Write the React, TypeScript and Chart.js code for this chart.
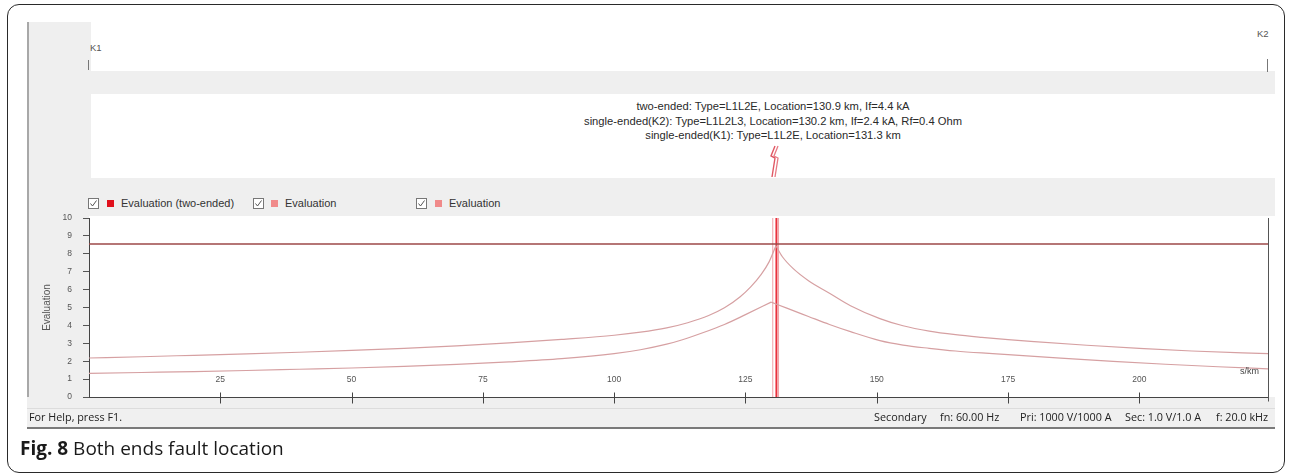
import React, { useEffect, useRef } from "react";
import { Chart, registerables } from "chart.js";

Chart.register(...registerables);

// ---------------- data ----------------
const X_MIN = 0;
const X_MAX = 224.5;
const Y_MIN = 0;
const Y_MAX = 10;
const xTickValues = [25, 50, 75, 100, 125, 150, 175, 200];
const yTickValues = [0, 1, 2, 3, 4, 5, 6, 7, 8, 9, 10];

const twoEndedKm = [0, 10, 20, 30, 40, 50, 60, 70, 80, 90, 100, 105, 110, 114, 118, 121, 124, 126, 128, 129.5, 130.8, 132, 134, 137, 141, 145, 150.6, 155, 160, 165, 170, 175, 180, 190, 200, 210, 224.5];
const twoEndedEval = [2.18, 2.25, 2.33, 2.41, 2.5, 2.6, 2.72, 2.86, 3.02, 3.22, 3.45, 3.62, 3.86, 4.15, 4.55, 4.98, 5.6, 6.15, 6.85, 7.55, 8.45, 7.85, 7.2, 6.5, 5.8, 5.1, 4.38, 3.98, 3.68, 3.48, 3.33, 3.2, 3.09, 2.89, 2.72, 2.57, 2.42];

const singleKm = [0, 10, 20, 30, 40, 50, 60, 70, 80, 90, 100, 105, 110, 113, 117, 121, 125, 129.9, 133, 137, 141, 145, 150.6, 155, 160, 165, 170, 175, 185, 195, 205, 215, 224.5];
const singleEval = [1.32, 1.37, 1.42, 1.48, 1.55, 1.62, 1.71, 1.82, 1.96, 2.14, 2.42, 2.64, 2.95, 3.2, 3.6, 4.05, 4.6, 5.3, 4.95, 4.5, 4.05, 3.65, 3.15, 2.9, 2.72, 2.57, 2.46, 2.37, 2.17, 1.99, 1.83, 1.69, 1.57];

const thresholdKm = [0, 224.5];
const thresholdEval = [8.55, 8.55];

const faultTwoEndedKm = 130.9;
const faultK2Km = 130.2;
const faultK1Km = 131.3;

const annotationLines = [
  "two-ended: Type=L1L2E, Location=130.9 km, If=4.4 kA",
  "single-ended(K2): Type=L1L2L3, Location=130.2 km, If=2.4 kA, Rf=0.4 Ohm",
  "single-ended(K1): Type=L1L2E, Location=131.3 km",
];
const legendLabels = ["Evaluation (two-ended)", "Evaluation", "Evaluation"];
const legendColors = ["#e0101c", "#f08a8a", "#f08a8a"];
const statusItems = ["Secondary", "fn: 60.00 Hz", "Pri: 1000 V/1000 A", "Sec: 1.0 V/1.0 A", "f: 20.0 kHz"];
const statusX = [874, 940, 1020, 1125, 1216];
const statusHelp = "For Help, press F1.";
const yAxisTitle = "Evaluation";
const xUnit = "s/km";

// ---------------- helpers ----------------
const pts = (xs: number[], ys: number[]) => xs.map((x, i) => ({ x, y: ys[i] }));
const vline = (x: number) => [{ x, y: Y_MIN }, { x, y: Y_MAX }];
// split a cusp-shaped curve at its peak so each branch is smoothed separately
const branches = (xs: number[], ys: number[]) => {
  const p = ys.indexOf(Math.max(...ys));
  return [pts(xs.slice(0, p + 1), ys.slice(0, p + 1)), pts(xs.slice(p), ys.slice(p))];
};

const crossTicks = {
  id: "crossTicks",
  afterDraw(chart: any) {
    const xs = chart.scales.x;
    const ys = chart.scales.y;
    const ctx = chart.ctx;
    const y0 = Math.round(ys.getPixelForValue(0)) + 0.5;
    ctx.save();
    ctx.strokeStyle = "#444";
    ctx.lineWidth = 1;
    xTickValues.forEach((v) => {
      const px = Math.round(xs.getPixelForValue(v)) + 0.5;
      ctx.beginPath();
      ctx.moveTo(px, y0 - 5);
      ctx.lineTo(px, y0 + 6);
      ctx.stroke();
    });
    const pr = Math.round(xs.getPixelForValue(X_MAX)) + 0.5;
    ctx.strokeStyle = "#555";
    ctx.beginPath();
    ctx.moveTo(pr, chart.chartArea.top);
    ctx.lineTo(pr, y0 + 4);
    ctx.stroke();
    ctx.restore();
  },
};

const ChartCanvas: React.FC = () => {
  const ref = useRef<HTMLCanvasElement | null>(null);
  useEffect(() => {
    if (!ref.current) return;
    const curveColor = "rgb(214,160,162)";
    const tickFont = { size: 8.5, family: "'Liberation Sans', Arial, sans-serif" };
    const [upL, upR] = branches(twoEndedKm, twoEndedEval);
    const [loL, loR] = branches(singleKm, singleEval);
    const curve = (label: string, data: any) => ({ label, data, borderColor: curveColor, borderWidth: 1.2, pointRadius: 0, cubicInterpolationMode: "monotone" as const });
    const chart = new Chart(ref.current, {
      type: "line",
      data: {
        datasets: [
          { label: "threshold", data: pts(thresholdKm, thresholdEval), borderColor: "#9c4848", borderWidth: 1.5, pointRadius: 0 },
          curve(legendLabels[0], upL),
          curve(legendLabels[0], upR),
          curve(legendLabels[1], loL),
          curve(legendLabels[1], loR),
          { label: "K2 location", data: vline(faultK2Km), borderColor: "#f2a0a8", borderWidth: 1, pointRadius: 0 },
          { label: "K1 location", data: vline(faultK1Km), borderColor: "#f2a0a8", borderWidth: 1, pointRadius: 0 },
          { label: "two-ended location", data: vline(faultTwoEndedKm), borderColor: "#e8303c", borderWidth: 2, pointRadius: 0 },
        ],
      },
      options: {
        animation: false,
        responsive: false,
        maintainAspectRatio: false,
        devicePixelRatio: 1,
        parsing: false as any,
        layout: { padding: { left: 41, right: 22, top: 218, bottom: 67 } },
        plugins: { legend: { display: false }, tooltip: { enabled: false }, title: { display: false } },
        elements: { line: { tension: 0 } },
        scales: {
          x: {
            type: "linear",
            min: X_MIN,
            max: X_MAX,
            grid: { display: false },
            border: { display: true, color: "#444", width: 1 },
            afterBuildTicks: (s: any) => { s.ticks = xTickValues.map((v) => ({ value: v })); },
            ticks: {
              mirror: true,
              padding: 12,
              maxRotation: 0,
              autoSkip: false,
              color: "#555",
              font: tickFont,
              callback: (v: any) => String(v),
            },
            afterFit: (s: any) => { s.height = 10; },
          },
          y: {
            type: "linear",
            min: Y_MIN,
            max: Y_MAX,
            afterBuildTicks: (s: any) => { s.ticks = yTickValues.map((v) => ({ value: v })); },
            grid: { display: true, drawOnChartArea: false, drawTicks: true, tickLength: 6, color: "#555" },
            border: { display: true, color: "#444", width: 1 },
            ticks: {
              padding: 11,
              color: "#555",
              font: tickFont,
              autoSkip: false,
            },
            title: {
              display: true,
              text: yAxisTitle,
              color: "#555",
              padding: { top: 0, bottom: 0 },
              font: { size: 10, family: "'Liberation Sans', Arial, sans-serif" },
            },
            afterFit: (s: any) => { s.width = 48; },
          },
        },
      },
      plugins: [crossTicks],
    });
    return () => chart.destroy();
  }, []);
  return <canvas ref={ref} width={1290} height={474} style={{ position: "absolute", left: 0, top: 0, width: 1290, height: 474 }} />;
};

const Check: React.FC<{ left: number; top: number }> = ({ left, top }) => (
  <svg width={12} height={12} style={{ position: "absolute", left, top }}>
    <rect x={0.5} y={0.5} width={10} height={10} fill="#fff" stroke="#777" />
    <polyline points="2.5,5.5 4.5,8 8.5,2.5" fill="none" stroke="#555" strokeWidth={1} />
  </svg>
);

const abs = (s: React.CSSProperties): React.CSSProperties => ({ position: "absolute", ...s });

export default function App() {
  const sans = "'Liberation Sans', Arial, sans-serif";
  const legendChecks = [88, 253, 416];
  const legendSquares = [107, 271, 435];
  const legendTexts = [121, 285, 449];
  const statusFont: React.CSSProperties = { fontSize: 10.8, color: "#222", fontFamily: "'Open Sans', sans-serif", lineHeight: "14px", whiteSpace: "nowrap" };
  return (
    <div style={{ position: "relative", width: 1290, height: 474, background: "#fff", overflow: "hidden", fontFamily: sans }}>
      <style>{`body{margin:0}`}</style>
      {/* outer frame */}
      <div style={abs({ left: 7, top: 4, width: 1276, height: 467, border: "1.5px solid #2a2a2a", borderRadius: 12 })} />
      {/* left gray strip */}
      <div style={abs({ left: 27, top: 22, width: 62, height: 385, background: "#efefef", borderLeft: "2px solid #a8a8a8" })} />
      {/* top band */}
      <div style={abs({ left: 89, top: 71, width: 1186, height: 23, background: "#efefef" })} />
      {/* legend band */}
      <div style={abs({ left: 89, top: 178, width: 1186, height: 38, background: "#efefef" })} />
      {/* below axis band */}
      <div style={abs({ left: 27, top: 397, width: 1248, height: 11, background: "#efefef" })} />
      {/* status bar */}
      <div style={abs({ left: 27, top: 408, width: 1248, height: 18, background: "#f0f0f0", borderTop: "1px solid #dcdcdc", borderBottom: "2px solid #7a7a7a" })} />

      {/* K1 / K2 */}
      <div style={abs({ left: 90, top: 42, fontSize: 9.5, color: "#555" })}>K1</div>
      <div style={abs({ left: 88, top: 60, width: 1, height: 10, background: "#777" })} />
      <div style={abs({ left: 1257, top: 28, fontSize: 9.5, color: "#555" })}>K2</div>
      <div style={abs({ left: 1267, top: 59, width: 1, height: 13, background: "#777" })} />

      {/* annotation */}
      {annotationLines.map((t, i) => (
        <div key={i} style={abs({ left: 473, width: 600, top: 99 + i * 14.5, textAlign: "center", fontSize: 11.2, color: "#2a2a2a", lineHeight: "14px" })}>{t}</div>
      ))}
      <svg width={16} height={34} style={abs({ left: 766, top: 145 })}>
        <polyline points="9,1 5,11 9,13 6,32" fill="none" stroke="#e05864" strokeWidth={1.4} />
        <polyline points="12,1 8,11 12,13 9,32" fill="none" stroke="#e87a84" strokeWidth={1.3} />
      </svg>

      {/* legend */}
      {legendLabels.map((l, i) => (
        <React.Fragment key={i}>
          <Check left={legendChecks[i]} top={198} />
          <div style={abs({ left: legendSquares[i], top: 200, width: 7, height: 7, background: legendColors[i] })} />
          <div style={abs({ left: legendTexts[i], top: 196, fontSize: 11, color: "#333", lineHeight: "14px" })}>{l}</div>
        </React.Fragment>
      ))}

      {/* plot background */}
      <div style={abs({ left: 89, top: 216, width: 1184, height: 181, background: "#fff" })} />

      <ChartCanvas />

      <div style={abs({ left: 1240, top: 366, fontSize: 9, color: "#444" })}>{xUnit}</div>

      {/* status bar text */}
      <div style={abs({ left: 29, top: 410, ...statusFont })}>{statusHelp}</div>
      {statusItems.map((s, i) => (
        <div key={i} style={abs({ left: statusX[i], top: 410, ...statusFont })}>{s}</div>
      ))}

      {/* caption */}
      <div style={abs({ left: 20, top: 435, fontSize: 19, color: "#1a1a1a", fontFamily: "'Open Sans', sans-serif", lineHeight: "26px", whiteSpace: "nowrap" })}>
        <b>Fig. 8</b> Both ends fault location
      </div>
    </div>
  );
}
